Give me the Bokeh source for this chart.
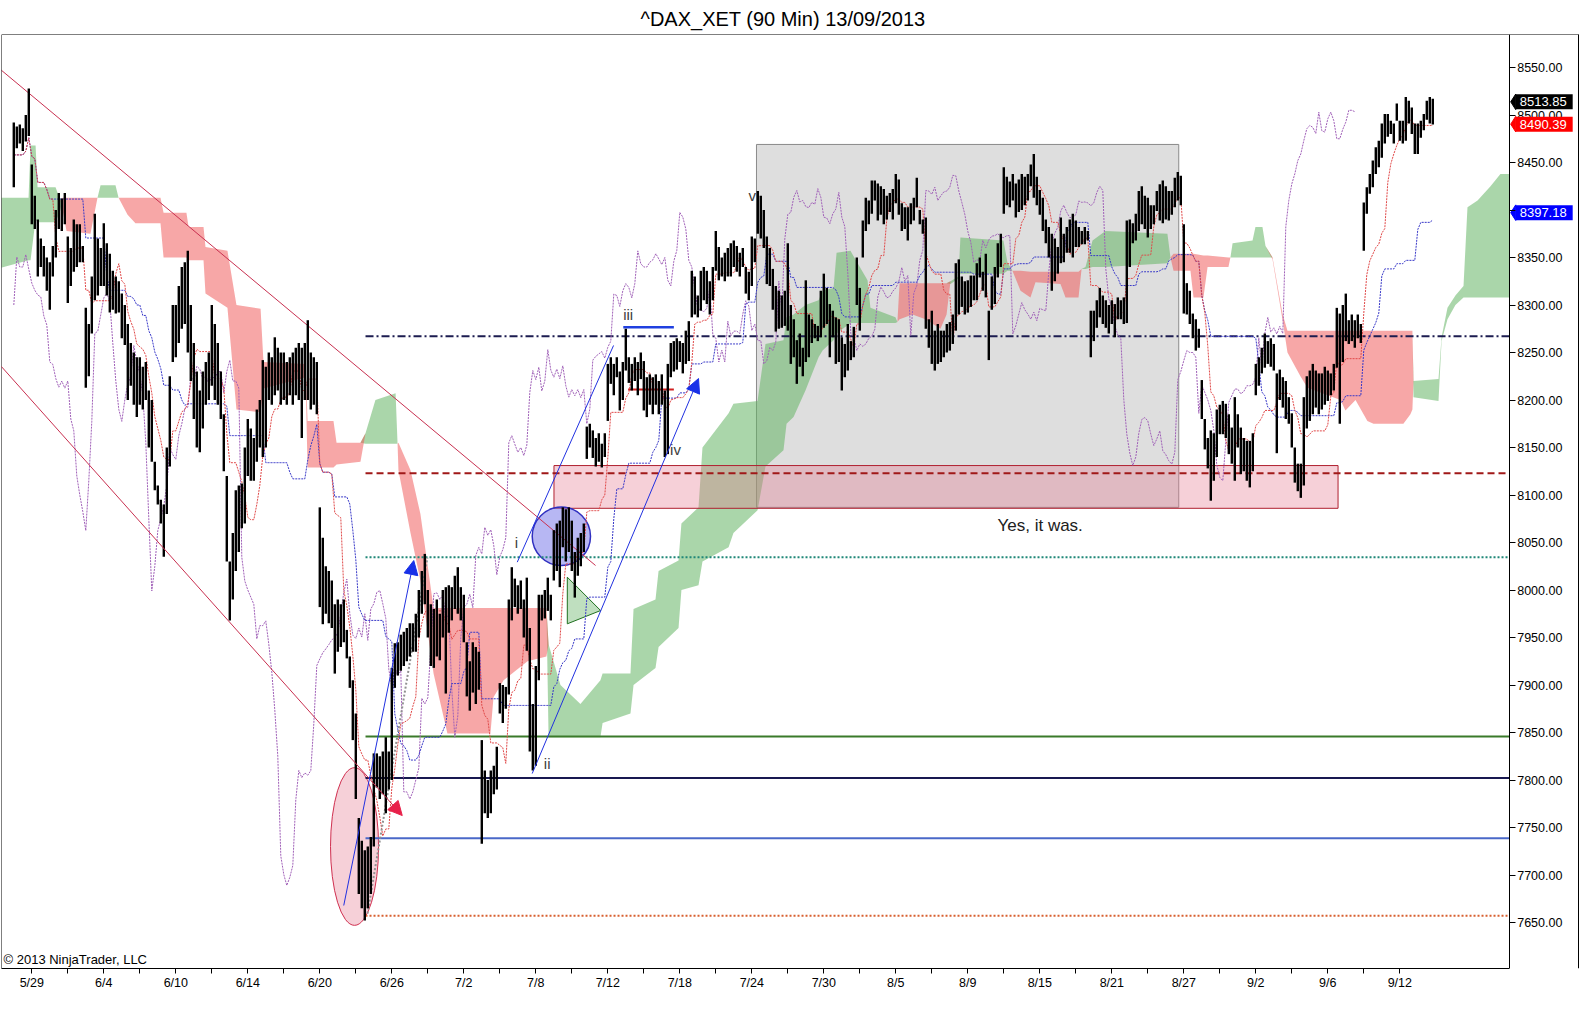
import numpy as np
import pandas as pd
from bokeh.plotting import figure
from bokeh.models import (FixedTicker, PrintfTickFormatter, Label, Arrow, NormalHead,
                          Title, Range1d, LinearAxis)
from bokeh.core.properties import value
from bokeh.embed import file_html
from bokeh.resources import INLINE

FONT = "Liberation Sans"

chart_title = "^DAX_XET (90 Min)  13/09/2013"
copyright_text = "\u00a9 2013 NinjaTrader, LLC"

# 90-minute bars, 6 per trading day, trading-day index 0 = 5/29 (first day shown = -1)
bars_per_day = 6
first_day = -1
bar_high = [
    8492, 8488, 8490, 8486, 8500, 8528,
    8448, 8415, 8390, 8370, 8362, 8350,
    8345, 8362, 8400, 8418, 8412, 8418,
    8372, 8360, 8390, 8385, 8385, 8362,
    8297, 8280, 8330, 8396, 8370, 8360,
    8386, 8365, 8354, 8336, 8330, 8325,
    8312, 8300, 8280, 8260, 8250, 8245,
    8245, 8235, 8240, 8210, 8200, 8135,
    8110, 8095, 8090, 8150, 8225, 8300,
    8300, 8320, 8340, 8345, 8357, 8300,
    8260, 8230, 8210, 8230, 8240, 8250,
    8300, 8280, 8260, 8230, 8185, 8120,
    8030, 8060, 8105, 8110, 8112, 8150,
    8180, 8170, 8160, 8190, 8200, 8242,
    8235, 8250, 8245, 8266, 8255, 8250,
    8250, 8240, 8245, 8250, 8255, 8260,
    8255, 8260, 8284, 8250, 8245, 8240,
    8087, 8055, 8025, 8020, 8010, 7985,
    7990, 7985, 7990, 7958, 7930, 7905,
    7870, 7760, 7736, 7726, 7730, 7740,
    7828, 7828, 7825, 7830, 7845, 7830,
    7918, 7944, 7945, 7953, 7956, 7960,
    7965, 7965, 7975, 8000, 8020, 8038,
    8000, 7985, 7980, 7990, 7975, 8000,
    8003, 8005, 8003, 8015, 8024, 8003,
    7995, 7945, 7925, 7945, 7940, 7935,
    7842, 7810, 7800, 7810, 7815, 7835,
    7902, 7900, 7898, 7990, 8024, 8012,
    8005, 8010, 7990, 8013, 7960, 7880,
    7920, 7995, 7995, 8000, 8013, 7995,
    8063, 8070, 8073, 8087, 8085, 8087,
    8073, 8040, 8055, 8060, 8070, 8172,
    8175, 8168, 8160, 8165, 8154, 8165,
    8238, 8245, 8238, 8245, 8230, 8240,
    8275, 8245, 8238, 8245, 8240, 8250,
    8241, 8224, 8227, 8224, 8227, 8220,
    8227, 8210, 8238, 8260, 8262, 8265,
    8262, 8260, 8273, 8283, 8336, 8330,
    8310, 8336, 8340, 8336, 8325, 8340,
    8378, 8361, 8350, 8355, 8360, 8365,
    8368, 8362, 8355, 8360, 8340, 8335,
    8372, 8370, 8420, 8415, 8400, 8372,
    8360, 8338, 8320, 8315, 8310, 8315,
    8365, 8300, 8285, 8263, 8270, 8255,
    8326, 8290, 8285, 8280, 8278, 8315,
    8333, 8318, 8301, 8294, 8287, 8285,
    8266, 8259, 8280, 8262, 8277, 8350,
    8318, 8389, 8413, 8410, 8431, 8431,
    8428, 8425, 8422, 8415, 8418, 8422,
    8438, 8432, 8407, 8403, 8403, 8407,
    8413, 8434, 8400, 8390, 8392, 8285,
    8294, 8273, 8280, 8273, 8273, 8280,
    8282, 8290, 8344, 8348, 8330, 8325,
    8326, 8331, 8331, 8344, 8350, 8335,
    8354, 8294, 8330, 8340, 8365, 8375,
    8445, 8435, 8430, 8438, 8428, 8432,
    8438, 8435, 8438, 8448, 8459, 8435,
    8421, 8413, 8390, 8382, 8375, 8370,
    8361, 8392, 8375, 8382, 8390, 8396,
    8389, 8382, 8378, 8382, 8378, 8294,
    8294, 8305, 8318, 8310, 8305, 8300,
    8305, 8301, 8308, 8305, 8308, 8389,
    8390, 8386, 8396, 8420, 8425, 8415,
    8413, 8405, 8405, 8420, 8427, 8431,
    8425, 8420, 8420, 8434, 8440, 8436,
    8385, 8323, 8315, 8291, 8285, 8275,
    8221, 8180, 8160, 8168, 8165, 8190,
    8195, 8199, 8196, 8185, 8171, 8203,
    8185, 8171, 8160, 8157, 8157, 8165,
    8238, 8245, 8255, 8270, 8262, 8265,
    8259, 8228, 8232, 8224, 8220, 8203,
    8186, 8150, 8133, 8133, 8203, 8225,
    8231, 8238, 8231, 8228, 8228, 8235,
    8231, 8228, 8238, 8297, 8291, 8300,
    8312, 8284, 8290, 8284, 8290, 8280,
    8408, 8424, 8438, 8452, 8466, 8473,
    8491, 8501, 8501, 8494, 8491, 8512,
    8494, 8494, 8519, 8515, 8508, 8491,
    8491, 8494, 8501, 8515, 8519, 8517,
]
bar_low = [
    8424, 8465, 8470, 8462, 8472, 8478,
    8385, 8380, 8330, 8340, 8330, 8315,
    8295, 8330, 8350, 8380, 8378, 8385,
    8302, 8320, 8335, 8340, 8345, 8345,
    8213, 8225, 8270, 8305, 8310, 8320,
    8320, 8310, 8292, 8295, 8291, 8292,
    8265, 8258, 8200, 8215, 8195, 8182,
    8195, 8190, 8200, 8150, 8135, 8105,
    8090, 8070, 8035, 8080, 8130, 8240,
    8245, 8260, 8275, 8280, 8250, 8220,
    8180, 8150, 8145, 8170, 8195, 8200,
    8215, 8200, 8195, 8180, 8125, 8030,
    7968, 7990, 8020, 8040, 8065, 8070,
    8120, 8115, 8115, 8135, 8150, 8140,
    8150, 8200, 8195, 8205, 8210, 8195,
    8200, 8195, 8205, 8195, 8205, 8200,
    8160, 8200, 8200, 8190, 8195, 8185,
    7982, 7964, 7975, 7965, 7960, 7912,
    7935, 7940, 7945, 7928, 7897, 7842,
    7780, 7680, 7665, 7652, 7665, 7680,
    7730, 7792, 7780, 7785, 7765, 7790,
    7800, 7897, 7910, 7915, 7920, 7925,
    7930, 7935, 7935, 7950, 7975, 7985,
    7950, 7920, 7918, 7930, 7926, 7950,
    7891, 7955, 7968, 7980, 7975, 7968,
    7945, 7888, 7873, 7892, 7880, 7895,
    7733, 7765, 7760, 7765, 7785, 7790,
    7870, 7860, 7875, 7890, 7968, 7982,
    7975, 7980, 7950, 7936, 7830, 7810,
    7815, 7905, 7968, 7970, 7978, 7968,
    8010, 8020, 8003, 8045, 8030, 8040,
    8020, 7992, 8015, 8025, 8040, 8138,
    8150, 8139, 8130, 8135, 8129, 8140,
    8178, 8217, 8205, 8224, 8189, 8200,
    8231, 8218, 8210, 8220, 8205, 8222,
    8189, 8182, 8195, 8185, 8195, 8185,
    8195, 8140, 8143, 8224, 8230, 8232,
    8240, 8228, 8238, 8241, 8287, 8290,
    8287, 8294, 8305, 8301, 8290, 8305,
    8336, 8326, 8330, 8325, 8330, 8330,
    8340, 8335, 8330, 8340, 8312, 8305,
    8320, 8345, 8375, 8370, 8360, 8322,
    8320, 8295, 8272, 8275, 8276, 8278,
    8273, 8238, 8245, 8217, 8235, 8225,
    8240, 8245, 8260, 8265, 8262, 8266,
    8276, 8280, 8245, 8266, 8238, 8240,
    8210, 8224, 8231, 8242, 8245, 8300,
    8273, 8350, 8378, 8385, 8396, 8410,
    8389, 8395, 8385, 8390, 8398, 8390,
    8407, 8395, 8378, 8380, 8368, 8385,
    8389, 8403, 8385, 8375, 8275, 8255,
    8238, 8231, 8238, 8240, 8245, 8250,
    8252, 8259, 8273, 8290, 8298, 8290,
    8292, 8298, 8305, 8305, 8329, 8315,
    8308, 8242, 8295, 8301, 8329, 8340,
    8396, 8405, 8403, 8410, 8392, 8398,
    8400, 8405, 8410, 8425, 8413, 8405,
    8395, 8378, 8365, 8350, 8315, 8325,
    8333, 8344, 8345, 8355, 8355, 8350,
    8361, 8361, 8364, 8364, 8368, 8245,
    8262, 8276, 8287, 8280, 8276, 8270,
    8280, 8266, 8285, 8285, 8280, 8281,
    8340, 8365, 8368, 8378, 8385, 8380,
    8371, 8380, 8385, 8399, 8389, 8386,
    8390, 8389, 8395, 8403, 8410, 8405,
    8291, 8290, 8280, 8265, 8252, 8255,
    8180, 8148, 8128, 8094, 8115, 8140,
    8164, 8164, 8160, 8143, 8133, 8115,
    8150, 8122, 8125, 8115, 8108, 8125,
    8205, 8215, 8228, 8234, 8238, 8235,
    8231, 8144, 8200, 8192, 8180, 8175,
    8150, 8113, 8104, 8097, 8110, 8170,
    8178, 8185, 8192, 8185, 8190, 8195,
    8199, 8205, 8210, 8234, 8175, 8240,
    8262, 8259, 8262, 8255, 8265, 8260,
    8357, 8396, 8417, 8424, 8438, 8445,
    8455, 8470, 8477, 8480, 8470, 8494,
    8473, 8470, 8473, 8491, 8480, 8459,
    8459, 8476, 8484, 8495, 8491, 8490,
]

# Ichimoku cloud (senkou spans), x in trading-day index
cloud_day = [
    -1.75, -0.18, -0.07, 0.21, 0.32, 1.32, 1.59, 1.71, 1.93, 3.26,
    3.65, 3.82, 4.65, 4.82, 5.32, 5.76, 7.15, 7.32, 8.59, 8.71,
    9.54, 9.65, 10.87, 11.37, 12.71, 12.87, 15.21, 15.32, 16.76, 16.93,
    18.26, 18.54, 19.09, 20.21, 20.32, 20.37, 21.04, 21.59, 22.32, 23.09,
    25.48, 25.65, 26.21, 27.54, 28.59, 28.71, 29.37, 30.48, 31.59, 31.71,
    33.26, 33.43, 34.65, 34.82, 35.93, 36.09, 37.04, 37.26, 38.71, 38.98,
    40.32, 40.76, 41.76, 41.93, 42.32, 42.98, 43.71, 43.93, 44.54, 44.71,
    45.48, 46.43, 46.59, 47.98, 48.09, 48.21, 48.93, 49.65, 50.48, 50.82,
    51.04, 51.48, 51.59, 53.98, 54.2, 54.48, 54.93, 55.48, 55.76, 57.15,
    57.43, 58.15, 58.32, 58.54, 58.93, 59.65, 63.09, 63.26, 63.43, 64.37,
    64.54, 65.09, 65.32, 66.48, 66.59, 66.71, 67.82, 67.98, 68.37, 68.54,
    68.93, 69.48, 69.76, 70.48, 70.87, 72.71, 72.98, 73.54, 74.2, 74.54,
    76.2, 76.59, 76.7, 76.76, 78.15, 78.32, 78.65, 79.09, 79.54, 79.76,
    80.32, 81.04, 81.59, 82.07,
]
span_a = [
    8413, 8413, 8468, 8468, 8424, 8424, 8410, 8400, 8378, 8375,
    8413, 8426, 8426, 8413, 8395, 8386, 8386, 8350, 8350, 8347,
    8347, 8312, 8297, 8190, 8187, 8212, 8224, 8129, 8129, 8132,
    8135, 8165, 8200, 8207, 8154, 8126, 8060, 8010, 7912, 7849,
    7849, 7887, 7905, 7925, 7930, 7943, 7900, 7880, 7905, 7912,
    7912, 7980, 7990, 8020, 8031, 8070, 8087, 8150, 8186, 8196,
    8199, 8259, 8263, 8287, 8290, 8300, 8305, 8315, 8318, 8355,
    8357, 8326, 8297, 8287, 8282, 8285, 8290, 8285, 8275, 8290,
    8325, 8330, 8371, 8368, 8345, 8336, 8315, 8308, 8324, 8322,
    8308, 8308, 8338, 8340, 8368, 8378, 8375, 8350, 8336, 8336,
    8308, 8308, 8340, 8340, 8350, 8365, 8368, 8382, 8382, 8362,
    8348, 8285, 8250, 8225, 8213, 8200, 8189, 8200, 8178, 8175,
    8175, 8185, 8190, 8220, 8222, 8266, 8297, 8310, 8320, 8403,
    8410, 8425, 8438, 8438,
]
span_b = [
    8339, 8347, 8347, 8390, 8387, 8387, 8400, 8413, 8413, 8413,
    8413, 8413, 8413, 8413, 8413, 8413, 8413, 8397, 8397, 8382,
    8382, 8361, 8357, 8300, 8296, 8240, 8238, 8178, 8178, 8155,
    8155, 8154, 8154, 8154, 8154, 8155, 8126, 8080, 7981, 7981,
    7981, 7981, 7981, 7981, 7981, 7845, 7845, 7845, 7845, 7860,
    7870, 7900, 7918, 7940, 7960, 8000, 8005, 8030, 8045, 8060,
    8084, 8130, 8147, 8175, 8182, 8210, 8245, 8252, 8263, 8270,
    8281, 8281, 8281, 8281, 8282, 8323, 8323, 8323, 8323, 8323,
    8322, 8328, 8333, 8333, 8336, 8336, 8336, 8335, 8335, 8335,
    8335, 8335, 8338, 8338, 8340, 8340, 8344, 8350, 8354, 8354,
    8354, 8352, 8352, 8350, 8350, 8350, 8350, 8350, 8350, 8350,
    8350, 8291, 8273, 8273, 8273, 8273, 8273, 8273, 8273, 8273,
    8273, 8273, 8273, 8203, 8199, 8262, 8285, 8300, 8308, 8308,
    8308, 8308, 8308, 8308,
]

# axis ticks / labels
date_labels = ["5/29", "6/4", "6/10", "6/14", "6/20", "6/26", "7/2", "7/8", "7/12", "7/18",
               "7/24", "7/30", "8/5", "8/9", "8/15", "8/21", "8/27", "9/2", "9/6", "9/12"]
date_label_days = list(range(0, 77, 4))
date_tick_days = list(range(0, 77, 2))
price_ticks = list(range(7650, 8551, 50))

# last values shown on the price scale
last_close = 8513.85
last_tenkan = 8490.39
last_kijun = 8397.18

# horizontal drawing levels
level_prices = [8267, 8123, 8034.6, 7845.8, 7802, 7738.8, 7657]
level_colors = ["#1c1c50", "#a01818", "#208878", "#3a7a2a", "#181850", "#4a68c8", "#d86030"]
level_dashes = ["8 3 2 3", "7 4", "2 2", "solid", "solid", "solid", "2 2"]
level_start_day = 18.54

# Elliott wave labels
wave_labels = ["i", "ii", "iii", "iv", "v"]
wave_day = [26.93, 28.63, 33.13, 35.76, 40.02]
wave_price = [8050, 7817, 8290, 8147.6, 8415]

# ---------------------------------------------------------------
n = min(len(bar_high), len(bar_low))
H = np.array(bar_high[:n], dtype=float)
L = np.array(bar_low[:n], dtype=float)
bx = first_day + np.arange(n) / bars_per_day

tenkan = (pd.Series(H).rolling(9, min_periods=1).max() + pd.Series(L).rolling(9, min_periods=1).min()) / 2
kijun = (pd.Series(H).rolling(26, min_periods=1).max() + pd.Series(L).rolling(26, min_periods=1).min()) / 2
mid = (H + L) / 2
chikou_x = bx[:-26]
chikou_y = mid[26:]

m = min(len(cloud_day), len(span_a), len(span_b))
cd = np.array(cloud_day[:m]); sa = np.array(span_a[:m], float); sb = np.array(span_b[:m], float)
upper = np.maximum(sa, sb)

PX_PER_DAY = 18.0
x0 = -1.6833
x_axis_at = 82.078            # where the price scale sits (day units)
x1 = x0 + 1578 / PX_PER_DAY   # frame spans whole width; price scale drawn inside
y0, y1 = 7601.58, 8584.74
PT_PER_PX = 1 / 0.95

p = figure(width=1579, height=1023, x_range=Range1d(x0, x1), y_range=Range1d(y0, y1),
           output_backend="svg", toolbar_location=None, y_axis_location="right",
           min_border_left=1, min_border_right=0, min_border_top=34, min_border_bottom=55,
           background_fill_color="white", border_fill_color="white")
p.add_layout(Title(text=chart_title, align="left", text_font_size="20px", text_font=FONT,
                   text_font_style="normal", text_color="black", standoff=10, offset=639), "above")
p.grid.visible = False
p.outline_line_color = None

# gray consolidation box
p.quad(left=40.26, right=63.72, bottom=8087, top=8469, fill_color="#dcdcdc", fill_alpha=0.95,
       line_color="#8a8a8a", line_width=1)

# cloud
p.varea(x=cd, y1=sb, y2=upper, fill_color="#64b464", fill_alpha=0.55)
p.varea(x=cd, y1=sa, y2=upper, fill_color="#f05050", fill_alpha=0.5)

# pink zone
p.quad(left=29.01, right=72.57, bottom=8086, top=8131, fill_color="#e67890", fill_alpha=0.35,
       line_color="#b02030", line_width=1)
# ellipse / circle / triangle
p.ellipse(x=17.93, y=7730, width=2.67, height=166, fill_color="#e67890", fill_alpha=0.35,
          line_color="#d03050", line_width=1)
p.ellipse(x=29.42, y=8056.5, width=3.24, height=61.6, fill_color="#7070e8", fill_alpha=0.5,
          line_color="#3030c0", line_width=1.5)
p.patch(x=[29.75, 29.75, 31.6], y=[8013.5, 7964.4, 7978.4], fill_color="#60b060", fill_alpha=0.4,
        line_color="#207020", line_width=1)

# horizontal levels
for lp, lc, ld in zip(level_prices, level_colors, level_dashes):
    p.segment(x0=[level_start_day], y0=[lp], x1=[x_axis_at], y1=[lp], line_color=lc, line_width=2,
              line_dash=ld)

# short lines at wave iii
p.segment(x0=[32.86], y0=[8276.7], x1=[35.67], y1=[8276.7], line_color="#2040e0", line_width=2.5)
p.segment(x0=[33.13], y0=[8211], x1=[35.67], y1=[8211], line_color="#d02020", line_width=2)

# Ichimoku lines
p.line(chikou_x, chikou_y, line_color="#a060b8", line_width=1, line_dash="2 1")
p.line(bx, kijun, line_color="#3838c8", line_width=1, line_dash="2 1")
p.line(bx, tenkan, line_color="#e04848", line_width=1, line_dash="2 1")

# channel lines and arrows
p.segment(x0=[-1.74], y0=[8547.9], x1=[31.32], y1=[8025.8], line_color="#c83050", line_width=1)
p.add_layout(Arrow(end=NormalHead(size=14, fill_color="#e8204a", line_color="#e8204a"),
                   x_start=-1.74, y_start=8236.3, x_end=20.58, y_end=7762.6,
                   line_color="#c83050", line_width=1))
p.add_layout(Arrow(end=NormalHead(size=14, fill_color="#1830e8", line_color="#1830e8"),
                   x_start=17.33, y_start=7667.9, x_end=21.22, y_end=8031,
                   line_color="#2030e0", line_width=1))
p.add_layout(Arrow(end=NormalHead(size=14, fill_color="#1830e8", line_color="#1830e8"),
                   x_start=27.8, y_start=7806.8, x_end=37.04, y_end=8222.6,
                   line_color="#2030e0", line_width=1))
p.segment(x0=[26.97], y0=[8029.3], x1=[32.32], y1=[8257.4], line_color="#2030e0", line_width=1)
p.segment(x0=[18.65], y0=[7659.5], x1=[21.98], y1=[8034], line_color="#909090", line_width=2,
          line_dash="2 2")

# price bars
p.segment(x0=bx, y0=L, x1=bx, y1=H, line_color="black", line_width=2.4)

# texts
p.text(x=wave_day, y=wave_price, text=wave_labels, text_align="center", text_baseline="middle",
       text_font=value(FONT), text_font_size="15px", text_color="#404040")
p.add_layout(Label(x=56.02, y=8067.6, text="Yes, it was.", text_align="center", text_baseline="middle",
                   text_font=FONT, text_font_size="17px", text_color="#202020"))
p.add_layout(Label(x=x0, y=y0, x_offset=2, y_offset=2, text=copyright_text, text_align="left",
                   text_baseline="bottom", text_font=FONT, text_font_size="13px", text_color="black"))

# last-value markers on the price scale (arrow tip + boxed value)
tip_x = x_axis_at + 1.5 / PX_PER_DAY
box_x = x_axis_at + 6.5 / PX_PER_DAY
half_h = 7.8 * PT_PER_PX
for val, col in [(last_close, "black"), (last_tenkan, "#ff0000"), (last_kijun, "#0000ff")]:
    p.patch(x=[box_x, tip_x, box_x], y=[val + half_h, val, val - half_h], fill_color=col,
            line_color=col, line_width=1)
    p.add_layout(Label(x=box_x, y=val, text=f"{val:.2f}", text_color="white",
                       background_fill_color=col, text_font=FONT, text_font_size="13px",
                       text_baseline="middle", text_align="left",
                       padding=dict(left=4, right=6, top=3, bottom=3)))

# axes
p.xaxis.bounds = (x0, x_axis_at)
p.xaxis.ticker = FixedTicker(ticks=date_tick_days)
overrides = {d: "" for d in date_tick_days}
for d, lab in zip(date_label_days, date_labels):
    overrides[d] = lab
p.xaxis.major_label_overrides = overrides
p.xaxis.major_tick_out = 5
p.xaxis.major_tick_in = 0
p.xaxis.minor_tick_out = 0
p.xaxis.minor_tick_in = 0
p.xaxis.major_label_standoff = 2
p.xaxis.major_label_text_font = FONT
p.xaxis.major_label_text_font_size = "12.5px"
p.xaxis.major_label_text_color = "black"
p.xaxis.axis_line_color = "black"
p.xaxis.major_tick_line_color = "black"

p.yaxis.fixed_location = x_axis_at
p.yaxis.ticker = FixedTicker(ticks=price_ticks)
p.yaxis.formatter = PrintfTickFormatter(format="%.2f")
p.yaxis.major_tick_out = 6
p.yaxis.major_tick_in = 0
p.yaxis.minor_tick_out = 0
p.yaxis.minor_tick_in = 0
p.yaxis.major_label_standoff = 2
p.yaxis.major_label_text_font = FONT
p.yaxis.major_label_text_font_size = "12.5px"
p.yaxis.major_label_text_color = "black"
p.yaxis.axis_line_color = "black"
p.yaxis.major_tick_line_color = "black"


def border_axis(loc):
    return LinearAxis(ticker=FixedTicker(ticks=[]), fixed_location=loc,
                      major_tick_out=0, major_tick_in=0, minor_tick_out=0, minor_tick_in=0,
                      major_label_text_font_size="0px", axis_line_color="black", axis_line_width=1)


# panel borders (top across the whole width, left edge, right edge)
p.add_layout(border_axis(y1), "above")
p.add_layout(border_axis(x0), "left")
p.add_layout(border_axis(x1 - 0.6 / PX_PER_DAY), "right")

open("out.html", "w").write(file_html(p, INLINE))
